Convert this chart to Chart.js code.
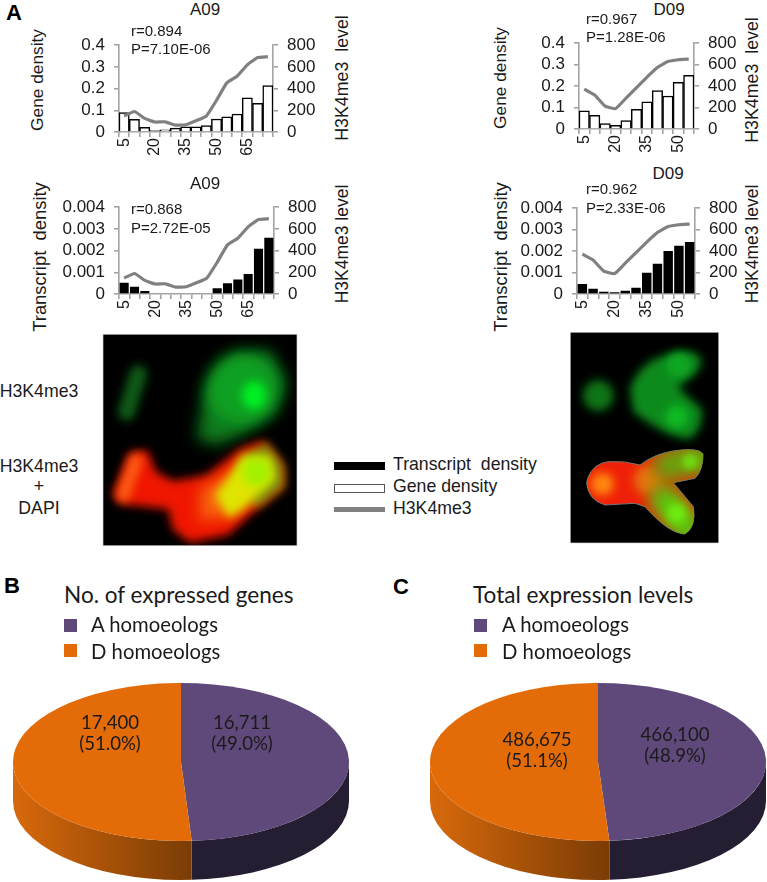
<!DOCTYPE html>
<html><head><meta charset="utf-8">
<style>
html,body{margin:0;padding:0;background:#fff;width:767px;height:882px;overflow:hidden}
#page{position:relative;width:767px;height:882px;overflow:hidden}
canvas{position:absolute;display:block}
.t{position:absolute;white-space:pre;color:#1a1a1a;font-family:"Liberation Sans",Arial,sans-serif;line-height:1}
.s{position:absolute}
svg{position:absolute;overflow:hidden}
</style>
<script src="https://cdn.jsdelivr.net/npm/chart.js@4/dist/chart.umd.min.js"></script>
</head><body><div id="page">
<svg style="left:100px;top:332px" width="200" height="216" viewBox="0 0 600 648">
<defs>
<filter id="b30" filterUnits="userSpaceOnUse" x="-100" y="-100" width="800" height="850"><feGaussianBlur stdDeviation="30"/></filter>
<filter id="b22" filterUnits="userSpaceOnUse" x="-100" y="-100" width="800" height="850"><feGaussianBlur stdDeviation="22"/></filter>
<filter id="b14" filterUnits="userSpaceOnUse" x="-100" y="-100" width="800" height="850"><feGaussianBlur stdDeviation="14"/></filter>
<filter id="b9" filterUnits="userSpaceOnUse" x="-100" y="-100" width="800" height="850"><feGaussianBlur stdDeviation="9"/></filter>
<clipPath id="cl"><rect x="10" y="8" width="580" height="632"/></clipPath>
<clipPath id="cr"><rect x="17" y="8" width="443" height="630"/></clipPath>
<clipPath id="arm"><path d="M68 445 Q85 400 130 395 Q180 392 225 405 Q270 370 330 362 Q400 352 414 372 Q415 420 390 445 L325 458 L385 530 Q395 590 360 612 Q310 610 240 530 L210 520 Q170 522 120 525 Q70 510 65 460 Z"/></clipPath>
</defs>
<rect x="8" y="6" width="584" height="636" fill="#d8d8d8"/>
<rect x="10" y="8" width="580" height="632" fill="#000"/>
<g clip-path="url(#cl)">
<path d="M115 125 L80 240" stroke="#0c5a14" stroke-width="52" stroke-linecap="round" filter="url(#b14)"/>
<path d="M290 320 L315 175 L405 65 L510 55 L558 150 L530 240 L430 305 L350 340Z" fill="#0a7a1a" filter="url(#b22)"/>
<ellipse cx="425" cy="170" rx="105" ry="105" fill="#0ca024" filter="url(#b22)"/>
<ellipse cx="462" cy="190" rx="36" ry="42" fill="#00f020" filter="url(#b14)"/>
<path d="M38 490 L88 362 L142 355 L168 420 L220 447 L320 430 L420 350 L490 326 L550 400 L552 465 L450 548 L385 608 L270 632 L218 592 L205 532 L60 515Z" fill="#f01806" filter="url(#b14)"/>
<path d="M500 332 L550 400 L552 465 L470 528 L400 450 L430 370Z" fill="#7c8a08" filter="url(#b14)"/>
<path d="M108 385 L70 490" stroke="#ff6a14" stroke-width="40" stroke-linecap="round" filter="url(#b14)" opacity=".85"/>
<path d="M300 470 L400 420 L390 550 L300 570Z" fill="#f87010" filter="url(#b22)" opacity=".9"/>
<path d="M345 490 L425 372 L510 372 L525 440 L430 535 L385 560Z" fill="#e0e400" filter="url(#b14)"/>
<ellipse cx="470" cy="420" rx="44" ry="44" fill="#a4f000" filter="url(#b14)"/>
</g>
</svg>
<svg style="left:565px;top:330px" width="160" height="216" viewBox="0 0 480 648">
<rect x="15" y="6" width="447" height="634" fill="#d8d8d8"/>
<rect x="17" y="8" width="443" height="630" fill="#000"/>
<g clip-path="url(#cr)">
<circle cx="100" cy="197" r="46" fill="#0a7414" filter="url(#b14)"/>
<path d="M195 175 Q230 90 300 78 Q380 48 408 85 Q414 128 340 165 Q350 190 410 235 Q416 300 372 328 Q300 318 205 245 Z" fill="#0a8a1c" filter="url(#b14)"/>
<circle cx="335" cy="260" r="34" fill="#08bc24" filter="url(#b14)"/>
<circle cx="340" cy="105" r="36" fill="#0aa822" filter="url(#b14)"/>
<path d="M68 445 Q85 400 130 395 Q180 392 225 405 Q270 370 330 362 Q400 352 414 372 Q415 420 390 445 L325 458 L385 530 Q395 590 360 612 Q310 610 240 530 L210 520 Q170 522 120 525 Q70 510 65 460 Z" fill="#ef2008" stroke="#777" stroke-width="3"/>
<g clip-path="url(#arm)">
<circle cx="112" cy="462" r="34" fill="#ff8a10" filter="url(#b14)"/>
<circle cx="250" cy="450" r="44" fill="#e87010" filter="url(#b14)"/>
<path d="M310 405 L420 385" stroke="#6aa010" stroke-width="95" stroke-linecap="round" filter="url(#b22)"/>
<path d="M300 510 L370 600" stroke="#5cc010" stroke-width="95" stroke-linecap="round" filter="url(#b22)"/>
<circle cx="335" cy="550" r="30" fill="#70f010" filter="url(#b14)"/>
<circle cx="375" cy="395" r="24" fill="#70d810" filter="url(#b9)"/>
</g>
</g>
</svg>
<canvas id="c1"></canvas><canvas id="c2"></canvas><canvas id="c3"></canvas><canvas id="c4"></canvas>
<canvas id="p1"></canvas><canvas id="p2"></canvas>
</div>
<script>
// ---- data ----
const binsA09 = ["5","10","15","20","25","30","35","40","45","50","55","60","65","70","75"];
const binsD09 = ["5","10","15","20","25","30","35","40","45","50","55"];
const geneA09 = [0.09,0.058,0.022,0.007,0.01,0.018,0.024,0.024,0.03,0.06,0.07,0.083,0.158,0.132,0.214];
const transcriptA09 = [0.00052,0.00033,0.00014,0,0,0,0,0,0.00003,0.00026,0.00049,0.00067,0.00092,0.00208,0.00259];
const h3k4A09 = [147,189,125,92,94,64,67,103,147,292,453,514,619,686,694];
const geneD09 = [0.085,0.064,0.025,0.017,0.039,0.092,0.127,0.179,0.154,0.218,0.25];
const transcriptD09 = [0.00047,0.00024,0.00011,0.00008,0.00015,0.00029,0.00099,0.00141,0.002,0.00225,0.00242];
const h3k4D09 = [372,316,213,190,288,386,484,573,629,646,652];
const geneTicks = [0,0.1,0.2,0.3,0.4];
const transcriptTicks = [0,0.001,0.002,0.003,0.004];
const h3k4Ticks = [0,200,400,600,800];
const pieLabels = ["A homoeologs","D homoeologs"];
const expressedGenes = [16711,17400];
const expressionLevels = [466100,486675];
const pieColors = ["#5f497a","#e36c09"];
// ------------------------------------
const SANS='"Liberation Sans",Arial,sans-serif', PIEF='Lato,"Open Sans",sans-serif', AXIS='#a3a3a3', TXT='#1a1a1a';
const page=document.getElementById('page');
function text(s,x,y,o={}){const d=document.createElement('div');d.className='t';d.textContent=s;
 d.style.left=x+'px';d.style.top=y+'px';d.style.fontSize=(o.size||16)+'px';
 if(o.font)d.style.fontFamily=o.font; if(o.bold)d.style.fontWeight='700'; if(o.color)d.style.color=o.color;
 const rot=o.rot?' rotate(-90deg)':''; const sx=o.sx?` scaleX(${o.sx})`:'';
 d.style.transformOrigin=o.left?'0 50%':'50% 50%';
 d.style.transform=(o.left?'translate(0,-50%)':'translate(-50%,-50%)')+rot+sx;
 page.appendChild(d);}
function box(x,y,w,h,css){const d=document.createElement('div');d.className='s';
 d.style.cssText+=`left:${x}px;top:${y}px;width:${w}px;height:${h}px;`+css;page.appendChild(d);}

function combo(id,a,labels,bars,line,barTicks,barStyle){
 const L=60,R=45,T=10,B=34; const c=document.getElementById(id);
 c.width=a.r-a.l+L+R;c.height=a.b-a.t+T+B;c.style.left=(a.l-L)+'px';c.style.top=(a.t-T)+'px';
 const yAxis=(pos,min,max,ticks,w)=>({type:'linear',position:pos,min,max,
  afterFit:s=>{s.width=w},afterBuildTicks:s=>{s.ticks=ticks.map(v=>({value:v}))},
  border:{color:AXIS,width:1.6},grid:{color:AXIS,lineWidth:1.6,drawOnChartArea:false,tickLength:5},
  ticks:{autoSkip:false,padding:9,color:TXT,font:{family:SANS,size:17},callback:v=>String(v)}});
 new Chart(c,{data:{labels,datasets:[
  {type:'line',label:'H3K4me3',data:line,yAxisID:'y1',order:1,borderColor:'#808080',borderWidth:3.2,pointRadius:0,tension:0.12},
  Object.assign({type:'bar',label:barStyle.label,data:bars,yAxisID:'y',order:2,backgroundColor:barStyle.fill,borderColor:'#000',borderWidth:barStyle.bw,barPercentage:barStyle.pct,categoryPercentage:1})
 ]},options:{responsive:false,animation:false,devicePixelRatio:1,layout:{padding:{top:T}},
  plugins:{legend:{display:false},tooltip:{enabled:false}},
  scales:{x:{type:'category',offset:true,afterFit:s=>{s.height=B},
    border:{color:AXIS,width:1.6},grid:{color:AXIS,lineWidth:1.6,drawOnChartArea:false,tickLength:5,offset:true},
    ticks:{autoSkip:false,minRotation:90,maxRotation:90,padding:1,color:TXT,font:{family:SANS,size:16},callback:(v,i)=>i%3===0?labels[i]:''}},
   y:yAxis('left',barTicks[0],barTicks[4],barTicks,L),
   y1:yAxis('right',0,800,h3k4Ticks,R)}}});
}
const white={label:'Gene density',fill:'#fff',bw:1.5,pct:1}, black={label:'Transcript density',fill:'#000',bw:0,pct:0.88};
combo('c1',{l:119,r:273,t:36,b:132},binsA09,geneA09,h3k4A09,geneTicks,white);
combo('c2',{l:119,r:274,t:198,b:294},binsA09,transcriptA09,h3k4A09,transcriptTicks,black);
combo('c3',{l:579,r:694,t:34,b:129},binsD09,geneD09,h3k4D09,geneTicks,white);
combo('c4',{l:577,r:695,t:199,b:294},binsD09,transcriptD09,h3k4D09,transcriptTicks,black);

// panel text
text('A',14,13,{size:22,bold:true,color:'#000'});
text('A09',205,9,{size:17}); text('A09',205,183,{size:17});
text('D09',669,9,{size:17}); text('D09',668,173,{size:17});
text('r=0.894',131,30,{size:15,left:true}); text('P=7.10E-06',131,48,{size:15,left:true});
text('r=0.868',131,208,{size:15,left:true}); text('P=2.72E-05',131,227,{size:15,left:true});
text('r=0.967',586,18,{size:15,left:true}); text('P=1.28E-06',586,36,{size:15,left:true});
text('r=0.962',586,188,{size:15,left:true}); text('P=2.33E-06',586,207,{size:15,left:true});
text('Gene density',38,80,{size:17.3,rot:true}); text('Gene density',501,78,{size:17.3,rot:true});
text('Transcript  density',40,257,{size:18.4,rot:true}); text('Transcript  density',501,257,{size:18.4,rot:true});
text('H3K4me3  level',343,78,{size:17.8,rot:true}); text('H3K4me3 level',343,244,{size:17.5,rot:true});
text('H3K4me3  level',753,80,{size:17.8,rot:true}); text('H3K4me3 level',753,244,{size:17.5,rot:true});
text('H3K4me3',39,392,{size:17.7}); text('H3K4me3',39,467,{size:17.7}); text('+',39,487,{size:17.7}); text('DAPI',39,509,{size:17.7});
box(334,462,51,8,'background:#000');
box(334,484,49,7,'background:#fff;border:1px solid #555');
box(334,507,51,5,'background:#808080');
text('Transcript  density',393,465,{size:17.7,left:true}); text('Gene density',393,487,{size:17.7,left:true}); text('H3K4me3',393,509,{size:17.7,left:true});

// pies: flat Chart.js pie squashed into an ellipse with an extruded wall
const K=0.47,DEPTH=39;
const pie3d={id:'pie3d',
 beforeDatasetsDraw(chart){const ctx=chart.ctx,els=chart.getDatasetMeta(0).data;
  els.forEach((el,i)=>{const {x,y,startAngle,endAngle,outerRadius:r}=el;
   const a0=Math.max(startAngle,0),a1=Math.min(endAngle,Math.PI); if(a1<=a0)return;
   ctx.beginPath();ctx.ellipse(x,y,r,r*K,0,a0,a1);ctx.ellipse(x,y+DEPTH,r,r*K,0,a1,a0,true);ctx.closePath();
   if(i===0){ctx.fillStyle='#251d31'}else{const bx=x+r*Math.cos(a0);const g=ctx.createLinearGradient(x-r,0,bx,0);
    g.addColorStop(0,'#d8690c');g.addColorStop(1,'#7a3c05');ctx.fillStyle=g}
   ctx.fill();});
  ctx.save();const e=els[0];ctx.translate(e.x,e.y);ctx.scale(1,K);ctx.translate(-e.x,-e.y);},
 afterDatasetsDraw(chart){chart.ctx.restore()}};
function pie(id,vals,cx,cy,r){const c=document.getElementById(id);
 c.width=2*r+4;c.height=(882-cy)*2;c.style.left=(cx-r-2)+'px';c.style.top=(cy-(882-cy))+'px';
 new Chart(c,{type:'pie',data:{labels:pieLabels,datasets:[{data:vals,backgroundColor:pieColors,borderWidth:0,radius:r}]},
  options:{responsive:false,animation:false,devicePixelRatio:1,layout:{padding:0},plugins:{legend:{display:false},tooltip:{enabled:false}}},
  plugins:[pie3d]});}
pie('p1',expressedGenes,181,762,168);
pie('p2',expressionLevels,598,762,168);

text('B',12,586,{size:22,bold:true,color:'#000'}); text('C',401,587,{size:22,bold:true,color:'#000'});
const PT={font:PIEF,size:24,sx:0.94}, PL={font:PIEF,size:21,sx:0.965}, PV={font:PIEF,size:20,sx:0.93};
text('No. of expressed genes',64,594,Object.assign({left:true},PT));
text('Total expression levels',473,594,Object.assign({left:true},PT));
[[64,91,0],[473.5,502,-0.5]].forEach(([sx,tx,dy])=>{
 box(sx,619+dy,13,13,'background:'+pieColors[0]); box(sx,644+dy,13,13,'background:'+pieColors[1]);
 text(pieLabels[0],tx,623+dy,Object.assign({left:true},PL)); text(pieLabels[1],tx,650+dy,Object.assign({left:true},PL));
});
text('16,711',242,721,PV); text('(49.0%)',242,742,PV);
text('17,400',110,721,PV); text('(51.0%)',110,742,PV);
text('466,100',674.5,733,PV); text('(48.9%)',674.5,754,PV);
text('486,675',537,738,PV); text('(51.1%)',537,759,PV);
</script></body></html>
